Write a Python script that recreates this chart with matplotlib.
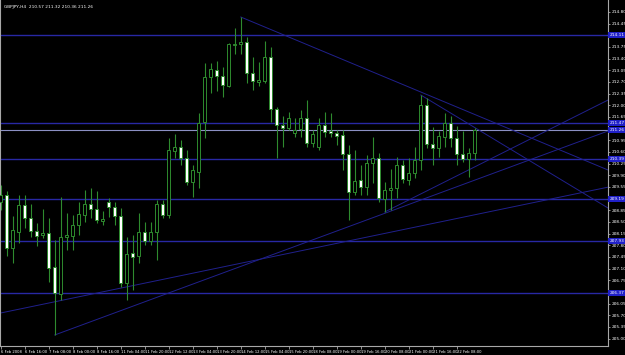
import numpy as np
import matplotlib.pyplot as plt

symbol = "GBPJPY,H4"

# H4 candles, left to right
opens = [209.10, 209.31, 207.72, 208.20, 209.01, 208.62, 208.23, 208.11, 208.17, 207.15,
         206.34, 208.05, 208.08, 208.41, 208.71, 209.04, 208.89, 208.53, 209.10, 208.95,
         208.68, 206.67, 207.57, 207.48, 208.20, 207.93, 208.20, 209.04, 208.71, 210.63,
         210.75, 210.42, 209.70, 210.00, 211.50, 212.85, 213.06, 212.88, 212.58, 213.81,
         213.84, 213.90, 212.97, 212.71, 212.73, 213.45, 211.89, 211.41, 211.32, 211.17,
         211.29, 211.62, 210.87, 210.75, 211.41, 211.23, 211.17, 211.11, 210.54, 209.40,
         209.76, 209.55, 210.27, 210.42, 209.19, 209.46, 209.52, 210.21, 209.76, 209.97,
         210.36, 212.01, 210.84, 210.72, 211.05, 211.47, 211.02, 210.54, 210.39, 210.57]
highs = [209.61, 209.43, 208.68, 209.31, 209.31, 209.04, 208.47, 208.89, 208.62, 207.96,
         209.25, 208.77, 208.71, 209.10, 209.46, 209.52, 209.43, 208.83, 209.22, 209.10,
         208.92, 208.05, 208.11, 208.77, 208.50, 208.50, 209.16, 209.16, 211.02, 211.14,
         210.96, 210.66, 210.21, 211.77, 213.27, 213.27, 213.33, 213.15, 213.87, 214.32,
         214.65, 214.05, 213.45, 213.30, 213.93, 213.75, 211.95, 211.68, 211.80, 211.62,
         211.86, 212.16, 211.26, 211.62, 211.80, 211.77, 211.26, 211.26, 210.81, 210.66,
         210.21, 210.51, 211.05, 210.57, 209.70, 210.09, 210.45, 210.36, 210.42, 210.75,
         212.31, 212.22, 211.35, 211.23, 211.77, 211.68, 211.38, 211.23, 210.72, 211.32]
lows = [208.86, 207.48, 207.27, 207.87, 208.32, 208.05, 207.78, 208.02, 206.70, 205.11,
        206.16, 207.66, 207.66, 208.11, 208.50, 208.62, 208.47, 208.41, 208.65, 208.41,
        206.55, 206.16, 206.46, 207.27, 207.81, 207.81, 207.36, 208.62, 208.62, 210.42,
        210.21, 209.61, 209.25, 209.52, 211.02, 212.37, 212.43, 212.25, 212.55, 213.54,
        213.54, 212.67, 212.46, 212.58, 212.67, 211.50, 210.42, 210.75, 211.26, 211.05,
        211.05, 210.75, 210.75, 210.66, 211.05, 211.05, 210.81, 210.06, 208.56, 209.31,
        209.31, 209.31, 209.67, 209.10, 208.80, 208.86, 209.22, 209.67, 209.61, 209.82,
        210.06, 210.72, 210.21, 210.45, 210.75, 210.75, 210.21, 210.30, 209.85, 210.36]
closes = [209.31, 207.72, 208.26, 209.01, 208.62, 208.23, 208.08, 208.17, 207.12, 206.37,
          208.05, 208.11, 208.41, 208.74, 209.04, 208.89, 208.56, 208.59, 208.95, 208.68,
          206.67, 207.54, 207.45, 208.20, 207.93, 208.20, 209.04, 208.71, 210.66, 210.75,
          210.42, 209.70, 210.06, 211.47, 212.85, 213.09, 212.88, 212.61, 213.84, 213.84,
          213.90, 212.97, 212.73, 212.75, 213.45, 211.89, 211.41, 211.32, 211.62, 211.26,
          211.62, 210.87, 211.14, 211.41, 211.20, 211.17, 211.08, 210.54, 209.40, 209.73,
          209.55, 210.27, 210.42, 209.22, 209.46, 209.52, 210.21, 209.79, 209.97, 210.36,
          212.01, 210.84, 210.72, 211.08, 211.47, 211.02, 210.54, 210.39, 210.57, 211.26]

date_labels = ["6 Feb 2008", "6 Feb 16:00", "7 Feb 08:00", "8 Feb 00:00", "8 Feb 16:00",
               "11 Feb 04:00", "11 Feb 20:00", "12 Feb 12:00", "13 Feb 04:00", "13 Feb 20:00",
               "14 Feb 12:00", "15 Feb 04:00", "15 Feb 20:00", "18 Feb 08:00", "19 Feb 00:00",
               "19 Feb 16:00", "20 Feb 08:00", "21 Feb 00:00", "21 Feb 16:00", "22 Feb 08:00"]

# horizontal levels drawn on the chart
levels = [214.11, 211.47, 210.39, 209.19, 207.93, 206.37]

# trend lines: (bar, price) -> (bar, price), drawn as rays to the right
trend_bar1 = [40, 70, 0, 9, 64]
trend_price1 = [214.65, 212.31, 205.77, 205.11, 208.80]
trend_bar2 = [100, 100, 100, 100, 100]
trend_price2 = [210.15, 209.05, 209.50, 211.15, 212.05]

price_ticks = np.round(214.80 - 0.35 * np.arange(29), 2)

green = '#2e8b2e'
navy = '#2828a4'
bidcol = '#8c90c4'
fs = 3.1
plt.rcParams['font.family'] = ['Liberation Sans Narrow', 'DejaVu Sans']

opens, highs, lows, closes = map(np.array, (opens, highs, lows, closes))
x = np.arange(len(opens))

fig = plt.figure(figsize=(6.25, 3.55), dpi=100, facecolor='black')
ax = fig.add_axes([0, 0.0254, 0.9728, 0.9746], facecolor='black')
ax.set_xlim(-0.12, 101.2)
ax.set_ylim(204.78, 215.16)

#levels and bid line
for lv in levels:
    ax.axhline(lv, color=navy, lw=1.0, zorder=1)
ax.axhline(closes[-1], color=bidcol, lw=0.8, zorder=1)

#trend rays
xr = ax.get_xlim()[1]
for b1, p1, b2, p2 in zip(trend_bar1, trend_price1, trend_bar2, trend_price2):
    k = (p2 - p1) / (b2 - b1)
    ax.plot([b1, xr], [p1, p1 + k * (xr - b1)], color='#20208c', lw=0.7, zorder=1)

#candles
up = closes >= opens
ax.vlines(x, lows, highs, color=green, lw=0.8, zorder=2)
bottom = np.minimum(opens, closes)
height = np.maximum(np.abs(closes - opens), 0.015)
ax.bar(x, height, bottom=bottom, width=0.55,
       color=np.where(up, 'black', 'white'), edgecolor=green, linewidth=0.7, zorder=3)

# axes look
ax.spines['top'].set_visible(False)
for s in ['right', 'bottom', 'left']:
    ax.spines[s].set_color('#a8a8a8')
    ax.spines[s].set_linewidth(0.8)

ax.yaxis.tick_right()
ax.set_yticks(price_ticks)
ax.set_yticklabels([f"{p:.2f}" for p in price_ticks])
ax.tick_params(axis='y', direction='out', length=1.5, width=0.6, color='#a8a8a8',
               labelcolor='white', labelsize=fs, pad=0.8)

ax.set_xticks(np.arange(0, len(opens), 4)[:len(date_labels)])
ax.set_xticklabels(date_labels)
ax.tick_params(axis='x', direction='out', length=2, width=0.6, color='#a8a8a8',
               labelcolor='white', labelsize=2.7, pad=0.8)
plt.setp(ax.get_xticklabels(), ha='left')

# price boxes on the right scale
tr = ax.get_yaxis_transform()
for lv in levels + [closes[-1]]:
    ax.text(1.003, lv, f"{lv:.2f}", transform=tr, ha='left', va='center', fontsize=fs,
            color='white', clip_on=False, zorder=5,
            bbox=dict(facecolor='#2020c8', edgecolor='none', pad=1.0))

ax.text(0.006, 0.985, f"{symbol}  {opens[-1]:.2f} {highs[-1]:.2f} {lows[-1]:.2f} {closes[-1]:.2f}",
        transform=ax.transAxes, ha='left', va='top', fontsize=fs, color='white')

fig.savefig('out.png', dpi=100, facecolor='black')
